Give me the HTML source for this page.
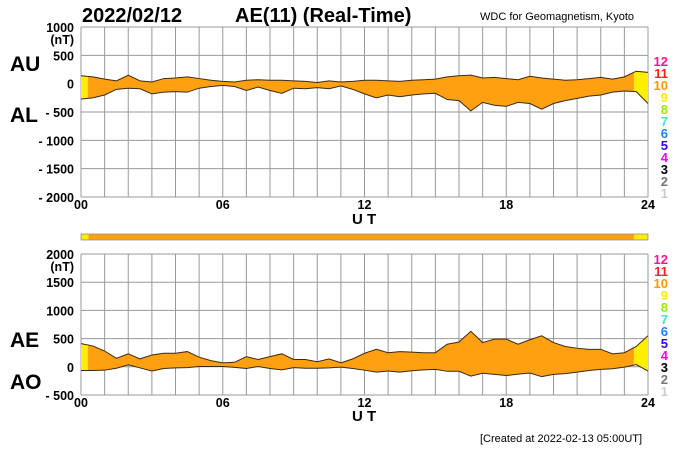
<!DOCTYPE html>
<html><head><meta charset="utf-8"><style>
body{margin:0;background:#fff}
svg{display:block;font-family:"Liberation Sans",Arial,sans-serif}
</style></head><body>
<svg id="c" width="700" height="450" viewBox="0 0 700 450">
<text x="82" y="22" font-size="20" font-weight="bold">2022/02/12</text>
<text x="235" y="22" font-size="20" font-weight="bold">AE(11) (Real-Time)</text>
<text x="480" y="20" font-size="11">WDC for Geomagnetism, Kyoto</text>
<text x="10" y="71" font-size="21" font-weight="bold">AU</text>
<text x="10" y="122" font-size="21" font-weight="bold">AL</text>
<text x="10" y="347" font-size="21" font-weight="bold">AE</text>
<text x="10" y="389" font-size="21" font-weight="bold">AO</text>
<text x="352" y="224" font-size="15" font-weight="bold">U T</text>
<text x="352" y="421" font-size="15" font-weight="bold">U T</text>
<text x="480" y="442" font-size="11">[Created at 2022-02-13 05:00UT]</text>
<g id="g"></g>
</svg>
<script>
const hours=[0,0.5,1,1.5,2,2.5,3,3.5,4,4.5,5,5.5,6,6.5,7,7.5,8,8.5,9,9.5,10,10.5,11,11.5,12,12.5,13,13.5,14,14.5,15,15.5,16,16.5,17,17.5,18,18.5,19,19.5,20,20.5,21,21.5,22,22.5,23,23.5,24];
const au=[140,120,80,50,150,50,30,90,100,120,90,60,40,30,60,70,60,60,50,40,20,50,30,40,60,60,50,40,60,70,80,120,140,150,100,110,90,70,130,100,80,60,70,90,110,80,120,220,200];
const al=[-270,-250,-200,-100,-80,-90,-180,-150,-140,-150,-80,-50,-30,-50,-120,-60,-120,-170,-80,-90,-70,-90,-40,-100,-180,-250,-200,-230,-200,-180,-170,-280,-300,-480,-330,-380,-400,-330,-350,-450,-350,-300,-260,-220,-200,-150,-130,-140,-350];
const topTicks=[1000,500,0,-500,-1000,-1500,-2000];
const botTicks=[2000,1500,1000,500,0,-500];
const xTicks=["00","06","12","18","24"];
const ae=au.map((v,i)=>v-al[i]);
const ao=au.map((v,i)=>(v+al[i])/2);
const legendNums=[12,11,10,9,8,7,6,5,4,3,2,1];
const legendCols=["#ff1493","#ff2020","#ff9900","#ffee00","#99ee00","#33eecc","#1e7fff","#3300ff","#ff00ff","#000","#777","#ccc"];

const NS="http://www.w3.org/2000/svg",g=document.getElementById('g');
function el(t,a,p){const e=document.createElementNS(NS,t);for(const k in a)e.setAttribute(k,a[k]);(p||g).appendChild(e);return e;}
const X0=81,X1=648,xs=h=>X0+(X1-X0)*h/24;
function panel(name,top,bot,vmax,vmin,ticks,up,dn,legTop){
  const ys=v=>top+(bot-top)*(vmax-v)/(vmax-vmin);
  const pg=el('g',{});
  
  
  for(let h=0;h<=24;h++){const l=el('line',{x1:xs(h),x2:xs(h),y1:top,y2:bot,stroke:'#999','stroke-width':1},pg);
    }
  ticks.forEach((t,i)=>{const l=el('line',{x1:X0,x2:X1,y1:ys(t),y2:ys(t),stroke:'#999'},pg);
    
    const tx=el('text',{x:74,y:ys(t)+5,'font-size':12.5,'font-weight':'bold','text-anchor':'end'},pg);
    tx.textContent=(t<0?'- '+(-t):String(t));
    });
  const u=el('text',{x:74,y:ys(ticks[0])+17,'font-size':12.5,'font-weight':'bold','text-anchor':'end'},pg);u.textContent='(nT)';
  
  xTicks.forEach((t,i)=>{const tx=el('text',{x:xs(i*6),y:bot+12,'font-size':12.5,'font-weight':'bold','text-anchor':'middle'},pg);tx.textContent=t;
    });
  let d='M'+hours.map((h,i)=>xs(h)+','+ys(up[i])).join('L');
  for(let i=hours.length-1;i>=0;i--)d+='L'+xs(hours[i])+','+ys(dn[i]);d+='Z';
  const id='cl'+name;
  const cp=el('clipPath',{id:id},pg);el('path',{d:d},cp);
  const cg=el('g',{'clip-path':'url(#'+id+')'},pg);
  el('rect',{x:X0,y:top,width:X1-X0,height:bot-top,fill:'#ffa010'},cg);
  const y1=el('rect',{x:X0,y:top,width:xs(0.3)-X0,height:bot-top,fill:'#ffee00'},cg);
  const y2=el('rect',{x:xs(23.4),y:top,width:X1-xs(23.4),height:bot-top,fill:'#ffee00'},cg);
  
  
  const ul=el('path',{d:'M'+hours.map((h,i)=>xs(h)+','+ys(up[i])).join('L'),fill:'none',stroke:'#3a2a10','stroke-width':1},pg);
  
  const ll=el('path',{d:'M'+hours.map((h,i)=>xs(h)+','+ys(dn[i])).join('L'),fill:'none',stroke:'#3a2a10','stroke-width':1},pg);
  
  legendNums.forEach((n,i)=>{const tx=el('text',{x:668,y:legTop+i*12,'font-size':13,'font-weight':'bold','text-anchor':'end',fill:legendCols[i]},pg);tx.textContent=n;
    });
}
panel('top',27,197,1000,-2000,topTicks,au,al,66);
panel('bottom',254,395,2000,-500,botTicks,ae,ao,264);
const bar=el('g',{});


el('rect',{x:X0,y:234,width:X1-X0,height:6,fill:'#ffa010',stroke:'#888','stroke-width':0.7},bar);
el('rect',{x:X0+0.5,y:234.5,width:xs(0.3)-X0,height:5,fill:'#ffee00'},bar);
el('rect',{x:xs(23.4),y:234.5,width:X1-xs(23.4)-0.5,height:5,fill:'#ffee00'},bar);
</script>
</body></html>
